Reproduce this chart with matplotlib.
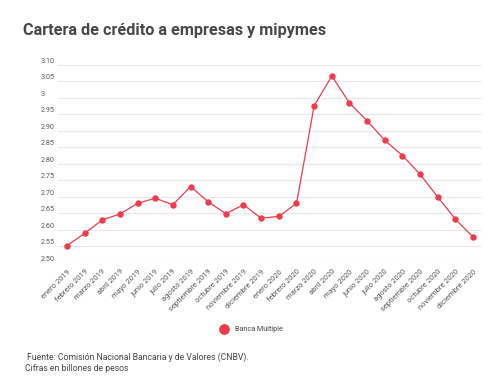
import matplotlib.pyplot as plt
from matplotlib.lines import Line2D

plt.rcParams['font.family'] = ['Roboto', 'DejaVu Sans']

# datos: cartera de credito (billones de pesos)
meses = ['enero 2019', 'febrero 2019', 'marzo 2019', 'abril 2019', 'mayo 2019',
         'junio 2019', 'julio 2019', 'agosto 2019', 'septiembre 2019',
         'octubre 2019', 'noviembre 2019', 'diciembre 2019', 'enero 2020',
         'febrero 2020', 'marzo 2020', 'abril 2020', 'mayo 2020', 'junio 2020',
         'julio 2020', 'agosto 2020', 'septiembre 2020', 'octubre 2020',
         'noviembre 2020', 'diciembre 2020']
banca_multiple = [2.552, 2.589, 2.630, 2.648, 2.680, 2.696, 2.676, 2.731,
                  2.685, 2.649, 2.676, 2.635, 2.641, 2.680, 2.976, 3.066,
                  2.984, 2.930, 2.871, 2.825, 2.768, 2.699, 2.632, 2.578]
y_ticks = [2.50, 2.55, 2.60, 2.65, 2.70, 2.75, 2.80, 2.85, 2.90, 2.95, 3.00, 3.05, 3.10]
y_labels = ['2.50', '2.55', '2.60', '2.65', '2.70', '2.75', '2.80', '2.85',
            '2.90', '2.95', '3', '3.05', '3.10']

rojo = '#ef3b4c'

fig = plt.figure(figsize=(5, 3.9), dpi=100)
ax = fig.add_axes([0.116, 0.326, 0.848, 0.508])

x = list(range(len(meses)))
ax.plot(x, banca_multiple, color=rojo, lw=0.9, marker='o', ms=3.6,
        markeredgecolor=rojo, zorder=3)

ax.set_xlim(-0.5, len(meses) - 0.5)
ax.set_ylim(2.5, 3.1)
ax.set_yticks(y_ticks)
ax.set_yticklabels(y_labels, fontsize=5.2, color='#555555', ha='left', va='bottom')
ax.set_xticks(x)
ax.set_xticklabels(meses, fontsize=5.4, color='#555555', rotation=45,
                   ha='right', rotation_mode='anchor')
ax.tick_params(axis='y', length=0, pad=12.2)
ax.tick_params(axis='x', length=0, pad=4)
ax.grid(axis='y', color='#e8e8e8', lw=0.8)
ax.set_axisbelow(True)
for s in ax.spines.values():
    s.set_visible(False)

fig.text(0.046, 0.923, 'Cartera de crédito a empresas y mipymes', fontsize=11.7,
         fontweight='bold', color='#474747', va='center')

handle = Line2D([], [], ls='none', marker='o', ms=6.7, color=rojo)
fig.legend([handle], ['Banca Múltiple'], loc='center', bbox_to_anchor=(0.5, 0.154),
           frameon=False, fontsize=5.2, handletextpad=0.6, labelcolor='#444444')

fig.text(0.054, 0.085, 'Fuente: Comisión Nacional Bancaria y de Valores (CNBV).',
         fontsize=6.2, color='#444444', va='center')
fig.text(0.05, 0.054, 'Cifras en billones de pesos', fontsize=6.2,
         color='#444444', va='center')

fig.savefig('out.png', dpi=100)
